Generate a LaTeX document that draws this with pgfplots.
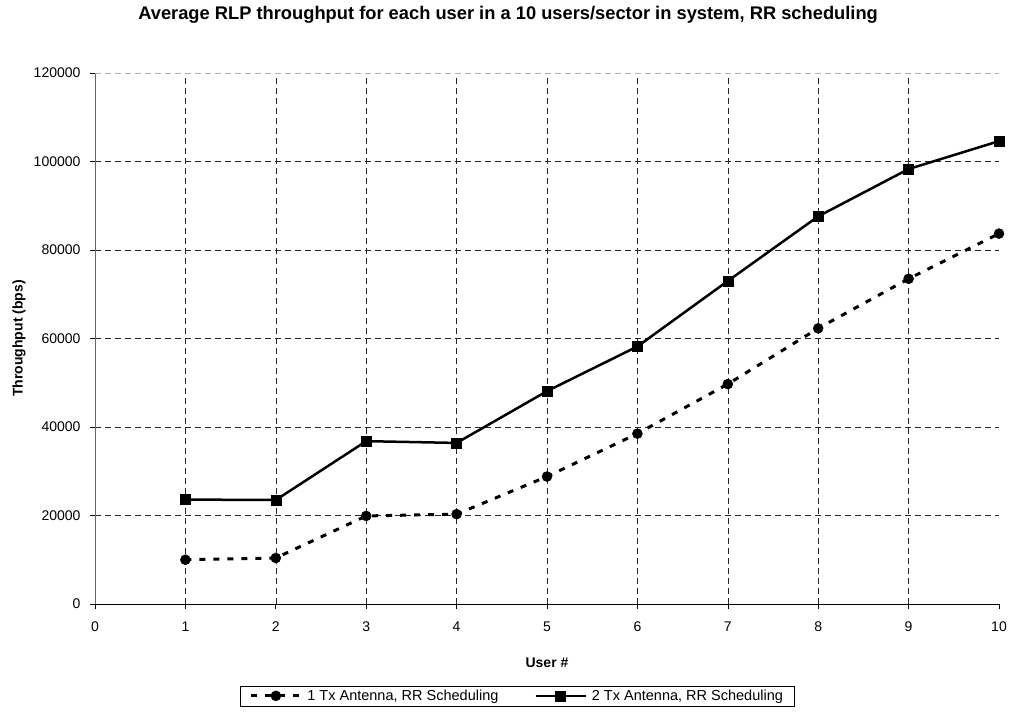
\documentclass[border=0pt]{standalone}
\usepackage{pgfplots}
\pgfplotsset{compat=1.18}
\usepackage{fontspec}
\setmainfont{Liberation Sans}

\begin{document}
\begin{tikzpicture}
\useasboundingbox (-95pt,-109pt) rectangle (918pt,604pt);
\begin{axis}[
  at={(0pt,0pt)}, anchor=origin,
  scale only axis,
  width=904pt, height=531pt,
  xmin=0, xmax=10, ymin=0, ymax=120000,
  xtick={0,1,...,9},
  extra x ticks={10},
  extra x tick style={grid=none},
  ytick={0,20000,...,100000},
  extra y ticks={120000},
  extra y tick style={major grid style={black!30, dash pattern=on 6pt off 4pt, line width=0.5pt}},
  axis x line=bottom, axis y line=left,
  axis line style={-},
  y axis line style={black!60, line width=0.8pt},
  x axis line style={black, line width=0.8pt},
  tick align=outside,
  major tick length=5pt,
  tick style={black, line width=0.6pt},
  grid=major,
  major grid style={black!85, line width=0.5pt, dash pattern=on 6pt off 4pt},
  scaled y ticks=false,
  /pgf/number format/assume math mode=true,
  yticklabel={\pgfmathprintnumber[fixed,use comma=false,1000 sep={}]{\tick}},
  ticklabel style={font=\fontsize{14}{16}\selectfont},
  xticklabel style={yshift=-9pt},
  yticklabel style={xshift=-6pt},
  title={\bfseries Average RLP throughput for each user in a 10 users/sector in system, RR scheduling},
  title style={at={(axis description cs:0.457,1.098)}, anchor=center, font=\fontsize{18.3}{21}\selectfont},
  xlabel={\bfseries User \#},
  xlabel style={at={(axis description cs:0.5,-0.111)}, anchor=center, font=\fontsize{14}{16}\selectfont},
  ylabel={\bfseries Throughput (bps)},
  ylabel style={at={(axis description cs:-0.084,0.5)}, anchor=center, font=\fontsize{14}{16}\selectfont},
  legend columns=2,
  legend style={at={(axis description cs:0.467,-0.173)}, anchor=center,
    draw=black, line width=0.6pt, font=\fontsize{14.5}{16}\selectfont,
    inner xsep=9pt, inner ysep=2pt,
    /tikz/every odd column/.append style={column sep=3pt},
    /tikz/every even column/.append style={column sep=34pt}},
  legend cell align=left,
  legend image code/.code={%
    \draw[mark repeat=2, mark phase=2, #1]
      plot coordinates {(0pt,0pt) (25pt,0pt) (50pt,0pt)};},
]
\addplot[black, line width=3pt, dash pattern=on 6pt off 8pt,
  mark=*, mark size=5pt, mark options={solid, line width=0.5pt}]
  coordinates {(1,10000) (2,10400) (3,19900) (4,20300) (5,28800)
               (6,38500) (7,49700) (8,62300) (9,73500) (10,83700)};
\addlegendentry{1 Tx Antenna, RR Scheduling}
\addplot[black, line width=2.5pt,
  mark=square*, mark size=5pt, mark options={solid, line width=0.5pt}]
  coordinates {(1,23600) (2,23500) (3,36800) (4,36400) (5,48100)
               (6,58200) (7,73000) (8,87600) (9,98300) (10,104600)};
\addlegendentry{2 Tx Antenna, RR Scheduling}
\end{axis}
\end{tikzpicture}
\end{document}
